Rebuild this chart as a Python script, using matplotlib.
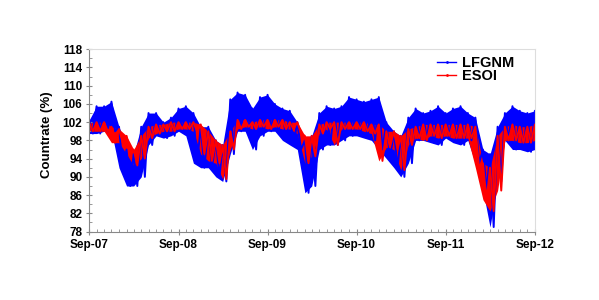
import numpy as np
import pandas as pd
import matplotlib
matplotlib.use('Agg')
import matplotlib.pyplot as plt
import matplotlib.dates as mdates
from matplotlib.lines import Line2D

# monthly envelopes, Sep-07 .. Sep-12
months = pd.date_range('2007-09-01', '2012-09-01', freq='MS')

lfgnm_hi = [102.5, 105.5, 105.5, 106.5, 101, 96, 95, 101, 104, 104, 102, 103,
            105, 105.5, 104, 101, 101, 98, 97, 107, 108.5, 108, 105, 107.5,
            108, 106, 105, 104.5, 102, 98, 99, 104, 105.5, 105, 105.5, 107.5,
            107, 106.5, 107, 107.5, 102, 100, 99, 103, 105, 104, 104.5, 105.5,
            104, 105, 105.5, 104, 103, 96, 95, 101, 104, 105.5, 104.5, 104, 104.5]
lfgnm_lo = [99.5, 99.5, 100, 100, 92, 88, 88, 90, 97, 99, 98.5, 99,
            100, 99, 93, 92, 92, 90, 89, 95, 100, 100, 96, 99,
            100, 100, 98, 97, 96, 86.5, 88, 96, 97, 97, 98, 99,
            99, 98.5, 98, 96, 94, 92, 90, 93, 98, 98, 97.5, 97,
            98.5, 97.5, 97, 98, 93, 87, 79, 89, 98, 96, 96, 95.5, 96]
esoi_hi = [101.8, 102, 102, 101, 100.5, 99, 96, 99, 101, 101.5, 101.5, 102,
           102, 102, 102, 101.5, 100, 98, 97, 100, 102.5, 102.5, 102, 102.5,
           102.5, 102.5, 102.5, 102, 102, 99, 99, 101.5, 102, 102, 102, 102,
           102, 102, 101.5, 101.5, 100, 100, 99, 100.5, 101, 101.5, 101.5, 101.5,
           101.5, 101.5, 101.5, 101.5, 101, 93, 92, 99, 101, 101.5, 101, 101, 101.5]
esoi_lo = [100, 100, 100, 97.5, 97.5, 95, 92.5, 94, 98.5, 99.5, 100, 100,
           100.5, 100.5, 100, 95, 93.5, 93, 89.5, 96, 100.5, 101, 100.5, 101,
           100.5, 101, 100.5, 100.5, 99.5, 93, 94.5, 99.5, 100.5, 97, 100.5, 100.5,
           100.5, 100, 99.5, 93.5, 96.5, 96, 91.5, 97, 98.5, 98, 99, 98.5,
           99, 98.5, 98.5, 98.5, 92, 85, 82.5, 87, 98, 98, 97.5, 97.5, 98]

mid = months + pd.Timedelta(days=15)

fig = plt.figure(figsize=(5.99, 3.0), dpi=100)
ax = fig.add_axes([0.149, 0.228, 0.744, 0.608])

for hi, lo, col in [(lfgnm_hi, lfgnm_lo, '#0000ff'), (esoi_hi, esoi_lo, '#ff0000')]:
    ax.fill_between(months, hi, lo, color=col, lw=0)
    # zigzag between the highs and lows so the band edge looks ragged
    zx = []
    zy = []
    for i in range(len(months)):
        zx += [months[i], mid[i]]
        zy += [hi[i], lo[i]]
    ax.plot(zx, zy, color=col, lw=1.4)

ax.set_xlim(months[0], months[-1])
ax.set_ylim(78, 118)
ax.set_yticks(np.arange(78, 119, 4))
ax.set_yticks(np.arange(78, 119, 2), minor=True)
ax.xaxis.set_major_locator(mdates.MonthLocator(bymonth=9))
ax.xaxis.set_minor_locator(mdates.MonthLocator())
ax.xaxis.set_major_formatter(mdates.DateFormatter('%b-%y'))

for lab in ax.get_xticklabels() + ax.get_yticklabels():
    lab.set_fontweight('bold')
    lab.set_family(['Liberation Sans', 'DejaVu Sans'])
ax.tick_params(axis='both', which='major', labelsize=8.5, direction='inout', length=4, color='#888888', pad=3)
ax.tick_params(axis='both', which='minor', direction='in', length=2, color='#888888')

ax.spines['left'].set_color('#888888')
ax.spines['bottom'].set_color('#888888')
ax.spines['top'].set_color('#dddddd')
ax.spines['right'].set_color('#dddddd')

ax.set_ylabel('Countrate (%)', fontsize=9.5, family=['Liberation Sans', 'DejaVu Sans'],
              fontweight='bold')
ax.yaxis.set_label_coords(-0.082, 0.53)

handles = [Line2D([], [], color='#0000ff', lw=1, marker='.', markersize=2),
           Line2D([], [], color='#ff0000', lw=1, marker='.', markersize=2)]
ax.legend(handles, ['LFGNM', 'ESOI'], loc='upper right', bbox_to_anchor=(0.967, 0.993),
          borderaxespad=0, frameon=False, handlelength=1.3, handletextpad=0.4,
          labelspacing=-0.1, prop={'family': 'Liberation Sans', 'weight': 'bold', 'size': 10.5})

fig.savefig('out.png', dpi=100)
